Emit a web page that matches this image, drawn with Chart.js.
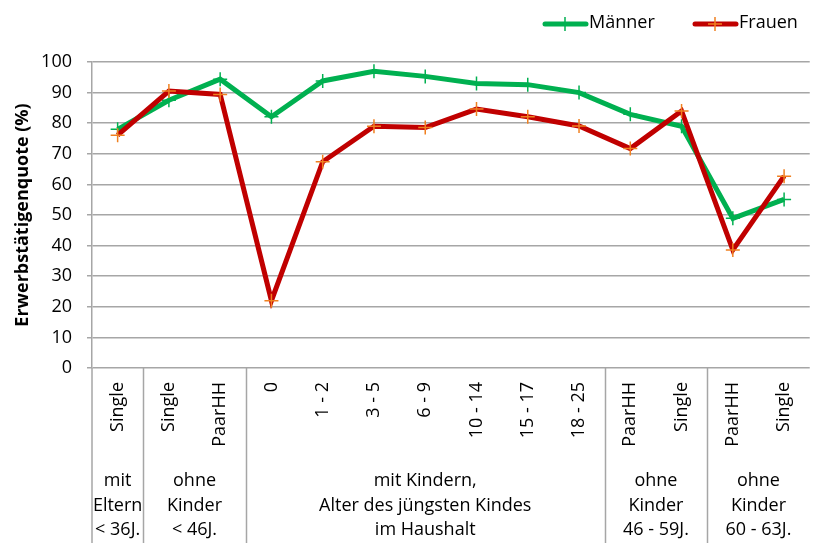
<!DOCTYPE html>
<html>
<head>
<meta charset="utf-8">
<script src="https://cdn.jsdelivr.net/npm/chart.js@4"></script>
<style>
  html, body { margin: 0; padding: 0; overflow: hidden; background: #fff; }
</style>
</head>
<body>
<canvas id="lineChart" width="820" height="543"></canvas>
<script>
const categories = ['Single', 'Single', 'PaarHH', '0', '1 - 2', '3 - 5', '6 - 9', '10 - 14', '15 - 17', '18 - 25', 'PaarHH', 'Single', 'PaarHH', 'Single'];
const maenner = [78.0, 87.5, 94.4, 82.1, 93.8, 97.0, 95.3, 93.0, 92.6, 90.0, 82.9, 79.0, 48.9, 55.1];
const frauen = [76.1, 90.5, 89.4, 22.0, 67.4, 79.0, 78.6, 84.6, 82.1, 79.1, 71.7, 84.0, 38.6, 62.7];
const groupLabels = [
    ['mit', 'Eltern', '< 36J.'],
    ['ohne', 'Kinder', '< 46J.'],
    ['mit Kindern,', 'Alter des jüngsten Kindes', 'im Haushalt'],
    ['ohne', 'Kinder', '46 - 59J.'],
    ['ohne', 'Kinder', '60 - 63J.']
];
const groupSpans = [[0, 0], [1, 2], [3, 9], [10, 11], [12, 13]];

const FONT = "'Open Sans', sans-serif";
const GRID = '#a6a6a6';

// Legend, group labels and the long separator lines below the axis
const extras = {
    id: 'extras',
    afterDraw(chart) {
        const ctx = chart.ctx;
        const x = chart.scales.x;
        const area = chart.chartArea;
        const h = chart.height;
        const half = (x.getPixelForValue(1) - x.getPixelForValue(0)) / 2;

        ctx.save();
        ctx.strokeStyle = GRID;
        ctx.lineWidth = 1.5;
        ctx.beginPath();
        ctx.moveTo(area.left, area.bottom);
        ctx.lineTo(area.left, h);
        groupSpans.slice(0, -1).forEach(span => {
            const px = Math.round(x.getPixelForValue(span[1]) + half) + 0.5;
            ctx.moveTo(px, area.bottom);
            ctx.lineTo(px, h);
        });
        ctx.stroke();

        ctx.fillStyle = '#000';
        ctx.font = '18px ' + FONT;
        ctx.textAlign = 'center';
        ctx.textBaseline = 'middle';
        groupLabels.forEach((lines, i) => {
            const cx = (x.getPixelForValue(groupSpans[i][0]) + x.getPixelForValue(groupSpans[i][1])) / 2;
            lines.forEach((t, j) => ctx.fillText(t, cx, 481 + j * 24.5));
        });

        const items = [
            { text: 'Männer', line: '#00b050', mark: '#00b050', x0: 543 },
            { text: 'Frauen', line: '#c00000', mark: '#f08020', x0: 693 }
        ];
        items.forEach(it => {
            const y = 24;
            ctx.strokeStyle = it.line;
            ctx.lineWidth = 5;
            ctx.lineCap = 'round';
            ctx.beginPath();
            ctx.moveTo(it.x0 + 2, y);
            ctx.lineTo(it.x0 + 43, y);
            ctx.stroke();
            ctx.strokeStyle = it.mark;
            ctx.lineWidth = 1.5;
            ctx.lineCap = 'butt';
            ctx.beginPath();
            ctx.moveTo(it.x0 + 22, y - 7);
            ctx.lineTo(it.x0 + 22, y + 7);
            ctx.moveTo(it.x0 + 15, y);
            ctx.lineTo(it.x0 + 29, y);
            ctx.stroke();
            ctx.textAlign = 'left';
            ctx.fillText(it.text, it.x0 + 46, y - 1);
        });
        ctx.restore();
    }
};

new Chart(document.getElementById('lineChart'), {
    type: 'line',
    data: {
        labels: categories,
        datasets: [{
            label: 'Männer',
            data: maenner,
            borderColor: '#00b050',
            borderWidth: 5,
            pointStyle: 'cross',
            pointRadius: 7,
            pointBorderColor: '#00b050',
            pointBorderWidth: 1.5,
            tension: 0,
            order: 2
        }, {
            label: 'Frauen',
            data: frauen,
            borderColor: '#c00000',
            borderWidth: 5,
            pointStyle: 'cross',
            pointRadius: 7,
            pointBorderColor: '#f08020',
            pointBorderWidth: 1.5,
            tension: 0,
            order: 1
        }]
    },
    options: {
        responsive: false,
        animation: false,
        layout: { padding: { top: 62, right: 0, bottom: 0, left: 0 } },
        plugins: {
            legend: { display: false },
            tooltip: { enabled: false }
        },
        scales: {
            x: {
                offset: true,
                grid: { display: false, drawTicks: false },
                border: { display: false },
                ticks: {
                    autoSkip: false,
                    minRotation: 90,
                    maxRotation: 90,
                    padding: 14,
                    color: '#000',
                    font: { family: FONT, size: 18 }
                },
                afterFit(scale) { scale.height = 175; }
            },
            y: {
                min: 0,
                max: 100,
                ticks: {
                    stepSize: 10,
                    padding: 15,
                    color: '#000',
                    font: { family: FONT, size: 18 }
                },
                grid: { color: GRID, lineWidth: 1.5, tickLength: 5 },
                border: { color: GRID, width: 1.5 },
                title: {
                    display: true,
                    text: 'Erwerbstätigenquote (%)',
                    color: '#000',
                    font: { family: FONT, size: 18, weight: 'bold' },
                    padding: { top: 12, bottom: 0 }
                },
                afterFit(scale) { scale.width = 92; }
            }
        }
    },
    plugins: [extras]
});
</script>
</body>
</html>
